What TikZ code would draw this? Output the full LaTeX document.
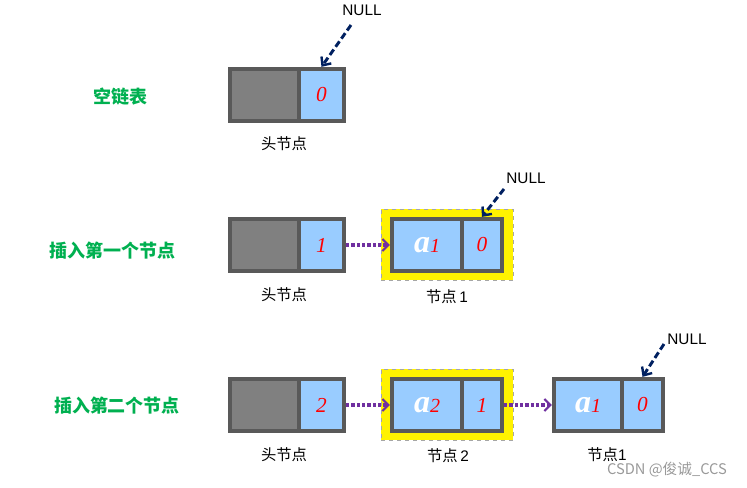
\documentclass[tikz,border=0pt]{standalone}
\usepackage{fontspec}
\setmainfont{Liberation Serif}
\newfontfamily\cjk{Noto Sans CJK SC}
\newfontfamily\arial{Liberation Sans}
\usetikzlibrary{arrows.meta}
\definecolor{bordergray}{HTML}{595959}
\definecolor{headgray}{HTML}{808080}
\definecolor{cellblue}{HTML}{99CCFF}
\definecolor{ptrpurple}{HTML}{7030A0}
\definecolor{nullnavy}{HTML}{002060}
\definecolor{labgreen}{HTML}{00B050}
\definecolor{numred}{HTML}{FF0000}
\begin{document}
\begin{tikzpicture}[x=0.75pt,y=-0.75pt,
  cell/.style={draw=bordergray, line width=3.2pt, minimum height=39pt, inner sep=0pt},
  headcell/.style={cell, fill=headgray},
  bluecell/.style={cell, fill=cellblue},
  hilite/.style={fill=yellow, draw=gray!70, dashed, line width=0.6pt, minimum width=99pt, minimum height=53.25pt, inner sep=0pt},
  ptr/.style={draw=ptrpurple, line width=2.4pt, dash pattern=on 2.4pt off 1.6pt, -{Straight Barb[length=4.5pt,width=9pt,line width=1.6pt]}},
  nullptr/.style={draw=nullnavy, line width=2.2pt, dash pattern=on 5pt off 2.5pt, -{Straight Barb[length=5pt,width=9pt,line width=1.8pt]}},
  nulltxt/.style={font=\arial\fontsize{11.5pt}{13pt}\selectfont},
  caption/.style={font=\cjk\fontsize{11.5pt}{14pt}\selectfont},
  rowlab/.style={font=\cjk\bfseries\fontsize{13.5pt}{15pt}\selectfont, text=labgreen},
  num/.style={font=\itshape\fontsize{16pt}{18pt}\selectfont, text=numred},
  aval/.style={font=\bfseries\itshape\fontsize{24pt}{26pt}\selectfont},
]
\useasboundingbox (0,0) rectangle (747,488);

% ---------- row 1: empty list ----------
\node[rowlab] (r1) at (120,97) {空链表};
\node[headcell, minimum width=51.75pt] (h1a) at (264.5,95) {};
\node[bluecell, minimum width=33.75pt, num] (h1b) at (321.5,95) {0};
\node[caption] (c1) at (284,144) {头节点};
\node[nulltxt] (null1) at (362,10) {NULL};
\coordinate (s1) at (351,25);
\draw[nullptr] (s1) -- (h1b.north);

% ---------- row 2: insert first node ----------
\node[rowlab] (r2) at (113,251) {插入第一个节点};
\node[headcell, minimum width=51.75pt] (h2a) at (264.5,245) {};
\node[bluecell, minimum width=33.75pt, num] (h2b) at (321.5,245) {1};
\node[caption] (c2) at (284,295) {头节点};
\node[hilite] (y2) at (447,244.5) {};
\node[bluecell, minimum width=52.5pt, aval] (n21a) at (427,245)
  {\textcolor{white}{a}\textcolor{numred}{\mdseries\fontsize{15pt}{17pt}\selectfont 1}};
\node[bluecell, minimum width=30pt, num] (n21b) at (482,245) {0};
\node[caption] (c21) at (447,297) {节点\,{\arial 1}};
\node[nulltxt] (null2) at (526,178) {NULL};
\coordinate (s2) at (504,189);
\draw[nullptr] (s2) -- (n21b.north);
\draw[ptr] (h2b.east) -- (n21a.west);

% ---------- row 3: insert second node ----------
\node[rowlab] (r3) at (117,406) {插入第二个节点};
\node[headcell, minimum width=51.75pt] (h3a) at (264.5,405) {};
\node[bluecell, minimum width=33.75pt, num] (h3b) at (321.5,405) {2};
\node[caption] (c3) at (284,455) {头节点};
\node[hilite] (y3) at (447,405) {};
\node[bluecell, minimum width=52.5pt, aval] (n31a) at (427,405)
  {\textcolor{white}{a}\textcolor{numred}{\mdseries\fontsize{15pt}{17pt}\selectfont 2}};
\node[bluecell, minimum width=30pt, num] (n31b) at (482,405) {1};
\node[caption] (c31) at (448,456) {节点\,{\arial 2}};
\node[bluecell, minimum width=51pt, aval] (n32a) at (588,405)
  {\textcolor{white}{a}\textcolor{numred}{\mdseries\fontsize{15pt}{17pt}\selectfont 1}};
\node[bluecell, minimum width=30.75pt, num] (n32b) at (642.5,405) {0};
\node[caption] (c32) at (607,455) {节点{\arial 1}};
\node[nulltxt] (null3) at (687,339) {NULL};
\coordinate (s3) at (664,344);
\draw[nullptr] (s3) -- (n32b.north);
\draw[ptr] (h3b.east) -- (n31a.west);
\draw[ptr] (n31b.east) -- (n32a.west);

% watermark
\node[font=\cjk\fontsize{11pt}{13pt}\selectfont, text=gray!80] (wm) at (667,470) {CSDN @俊诚\_CCS};
\end{tikzpicture}
\end{document}
